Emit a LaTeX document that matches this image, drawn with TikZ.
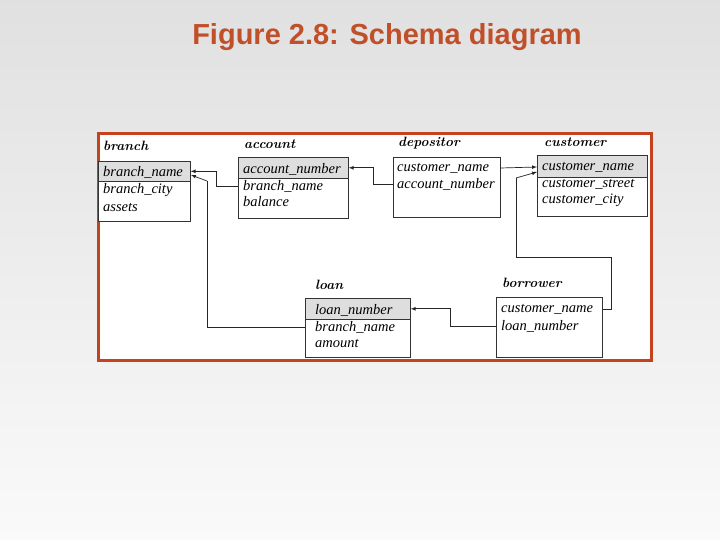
\documentclass[tikz,border=0pt]{standalone}
\usepackage{fontspec}
\newfontfamily\titlefont{Liberation Sans}
\newfontfamily\fldfont{Liberation Serif}
\definecolor{ttlred}{HTML}{C0502A}
\definecolor{framered}{HTML}{C4431E}
\begin{document}
\begin{tikzpicture}[x=1pt,y=-1pt,
  tbl/.style={draw=black!80,line width=0.6pt,fill=white,anchor=north west,inner sep=0},
  hdr/.style={draw=black!80,line width=0.6pt,fill=black!13,anchor=north west,inner sep=0},
  fld/.style={anchor=west,inner sep=0,font=\fldfont\fontsize{14.5}{16}\selectfont\itshape},
  ttl/.style={anchor=west,inner sep=0,font=\fontsize{13.5}{15}\bfseries\itshape},
  conn/.style={line width=0.7pt,black!85},
  arr/.style={conn,-latex}]
\shade[top color=black!12,bottom color=black!2] (0,0) rectangle (720,540);
\useasboundingbox (0,0) rectangle (720,540);
\node[font=\titlefont\bfseries\fontsize{29}{32}\selectfont,text=ttlred] (title) at (387,37) {Figure 2.8: Schema diagram};
\node[draw=framered,line width=3pt,fill=white,minimum width=553,minimum height=226,anchor=north west,inner sep=0] (frame) at (96.5,132.5) {};
% branch
\node[tbl,minimum width=92,minimum height=60] (br) at (98,161) {};
\node[hdr,minimum width=92,minimum height=20] (brh) at (98,161) {};
\node[ttl] (brt) at (103,146) {branch};
\node[fld] (br1) at (103,172) {branch\_name};
\node[fld] (br2) at (103,190) {branch\_city};
\node[fld] (br3) at (103,207) {assets};
% account
\node[tbl,minimum width=110,minimum height=61] (ac) at (238,157) {};
\node[hdr,minimum width=110,minimum height=21] (ach) at (238,157) {};
\node[ttl] (act) at (244,144) {account};
\node[fld] (ac1) at (243,169) {account\_number};
\node[fld] (ac2) at (243,186) {branch\_name};
\node[fld] (ac3) at (243,202) {balance};
% depositor
\node[tbl,minimum width=107,minimum height=60] (de) at (393,157) {};
\node[ttl] (det) at (398,143) {depositor};
\node[fld] (de1) at (397,168) {customer\_name};
\node[fld] (de2) at (397,184) {account\_number};
% customer
\node[tbl,minimum width=110,minimum height=61] (cu) at (537,155) {};
\node[hdr,minimum width=110,minimum height=22] (cuh) at (537,155) {};
\node[ttl] (cut) at (544,142) {customer};
\node[fld] (cu1) at (542,167) {customer\_name};
\node[fld] (cu2) at (542,184) {customer\_street};
\node[fld] (cu3) at (542,200) {customer\_city};
% loan
\node[tbl,minimum width=105,minimum height=59] (lo) at (305,298) {};
\node[hdr,minimum width=105,minimum height=21] (loh) at (305,298) {};
\node[ttl] (lot) at (315,285) {loan};
\node[fld] (lo1) at (315,310) {loan\_number};
\node[fld] (lo2) at (315,327) {branch\_name};
\node[fld] (lo3) at (315,344) {amount};
% borrower
\node[tbl,minimum width=106,minimum height=60] (bo) at (496,297) {};
\node[ttl] (bot) at (502,283) {borrower};
\node[fld] (bo1) at (501,309) {customer\_name};
\node[fld] (bo2) at (501,326) {loan\_number};
% connectors
\coordinate (k1) at (207,181);
\draw[arr] (ac2 -| ac.west) -- (216,186) |- (brh.east);
\draw[conn] (lo2 -| lo.west) -- (207,327) -- (k1);
\draw[arr] (k1) -- (191,175);
\draw[arr] (de2 -| de.west) -- (373,184) |- (ach.east);
\draw[arr] (de1 -| de.east) -- (cu1 -| cu.west);
\coordinate (k2) at (516,178);
\draw[conn] (bo1 -| bo.east) -- (611,309) -- (611,257) -- (516,257) -- (k2);
\draw[arr] (k2) -- (537,172);
\draw[arr] (bo2 -| bo.west) -- (450,326) |- (loh.east);
\end{tikzpicture}
\end{document}
